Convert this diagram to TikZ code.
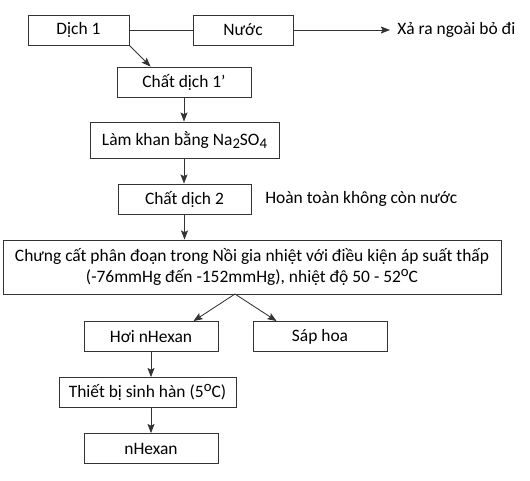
\documentclass[tikz,border=0pt]{standalone}
\usepackage{fontspec}
\setmainfont{Carlito}
\usepackage{tikz}
\usetikzlibrary{arrows.meta}
\newcommand{\chiduoi}[1]{\raisebox{-2.6pt}{\fontsize{10.5}{10.5}\selectfont #1}}
\newcommand{\chitren}[1]{\raisebox{4pt}{\fontsize{10.5}{10.5}\selectfont #1}}

\begin{document}
\begin{tikzpicture}[x=0.025cm,y=-0.025cm,
        font=\fontsize{12.4}{15}\selectfont,
        line/.style={draw=black!80,line width=0.6pt},
        box/.style={line,minimum height=0.75cm,inner sep=2pt,align=center},
        arr/.style={line,-{Stealth[length=6.5pt,width=5pt,inset=1.2pt]}}]
        \useasboundingbox (0,0) rectangle (530,480);
        \node[box,minimum width=2.525cm] (dich1) at (78.5,30) {Dịch 1};
        \node[box,minimum width=2.5cm] (nuoc) at (243,30) {Nước};
        \node[anchor=west,inner xsep=5pt] (xa) at (390,30) {Xả ra ngoài bỏ đi};
        \node[box,minimum width=3.35cm] (chat1) at (184,82) {Chất dịch 1’};
        \node[box,minimum width=4.725cm,minimum height=0.9cm] (lamkhan) at (184.5,140) {Làm khan bằng Na\chiduoi{2}SO\chiduoi{4}};
        \node[box,minimum width=3.325cm] (chat2) at (184.5,199) {Chất dịch 2};
        \node[anchor=west,inner sep=0pt] (khongnuoc) at (265,199) {Hoàn toàn không còn nước};
        \node[box,minimum width=12.45cm,minimum height=1.35cm] (chungcat) at (252,267) {Chưng cất phân đoạn trong Nồi gia nhiệt với điều kiện áp suất thấp\\(-76mmHg đến -152mmHg), nhiệt độ 50 - 52\chitren{o}C};
        \node[box,minimum width=3.35cm] (hoi) at (151,336.5) {Hơi nHexan};
        \node[box,minimum width=3.35cm] (sap) at (320,336.5) {Sáp hoa};
        \node[box,minimum width=4.425cm] (thietbi) at (147.5,392.5) {Thiết bị sinh hàn (5\chitren{o}C)};
        \node[box,minimum width=3.35cm] (nhexan) at (151,448.5) {nHexan};
        \coordinate (tach) at (235,294);
        \draw[line] (dich1) -- (nuoc);
        \draw[arr] (nuoc) -- (xa);
        \draw[arr] (dich1.south east) -- ([xshift=0.85cm]chat1.north west);
        \draw[arr] (chat1.south) -- (chat1.south |- lamkhan.north);
        \draw[arr] (chat1.south |- lamkhan.south) -- (chat1.south |- chat2.north);
        \draw[arr] (chat2.south) -- (chat2.south |- chungcat.north);
        \draw[arr] (tach) -- ([xshift=-0.625cm]hoi.north east);
        \draw[arr] (tach) -- ([xshift=0.6cm]sap.north west);
        \draw[arr] (hoi.south) -- (hoi.south |- thietbi.north);
        \draw[arr] (hoi.south |- thietbi.south) -- (nhexan.north);
\end{tikzpicture}
\end{document}
